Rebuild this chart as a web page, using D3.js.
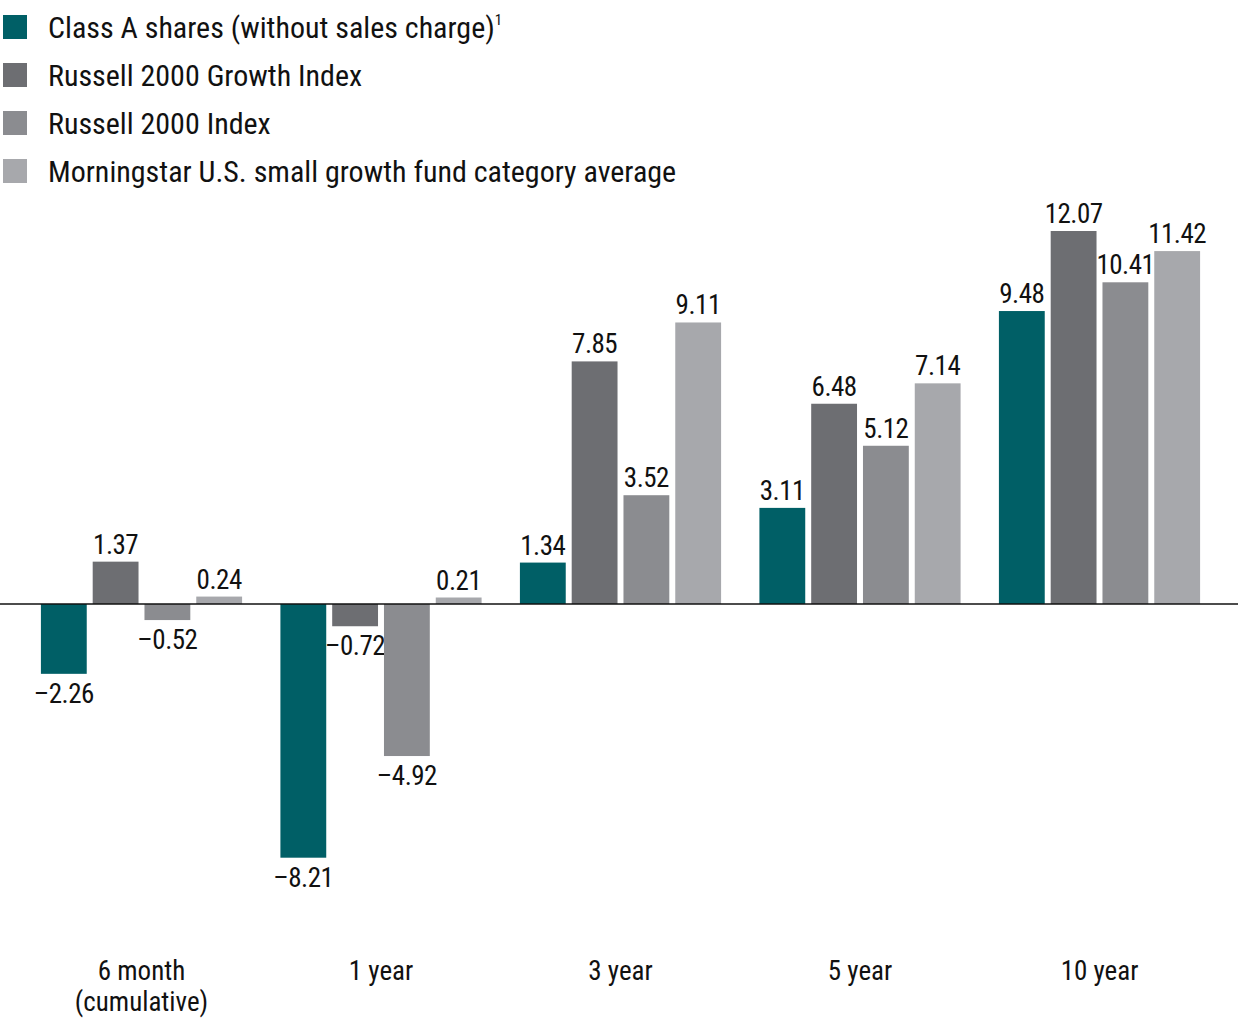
<!DOCTYPE html>
<html><head><meta charset="utf-8">
<script src="https://cdn.jsdelivr.net/npm/d3@7"></script>
<style>
body{margin:0;background:#fff;}
text{font-family:"Liberation Sans Narrow","Arial Narrow","Roboto Condensed","Liberation Sans",sans-serif;fill:#111;}
</style></head><body>
<svg id="chart" width="1238" height="1020"></svg>
<script>
const categories = ["6 month|(cumulative)", "1 year", "3 year", "5 year", "10 year"];
const seriesNames = ["Class A shares (without sales charge)", "Russell 2000 Growth Index", "Russell 2000 Index", "Morningstar U.S. small growth fund category average"];
const classA = [-2.26, -8.21, 1.34, 3.11, 9.48];
const r2000g = [1.37, -0.72, 7.85, 6.48, 12.07];
const r2000 = [-0.52, -4.92, 3.52, 5.12, 10.41];
const mstar = [0.24, 0.21, 9.11, 7.14, 11.42];
const colors = ["#005F66", "#6D6E72", "#8B8C90", "#A7A8AC"];

const seriesValues = [classA, r2000g, r2000, mstar];
const svg = d3.select("#chart");

const y = d3.scaleLinear().domain([-8.21, 12.07]).range([857.7, 231]);
const x0 = d3.scaleBand().domain(categories).range([21.75, 1219.25]).paddingInner(0.16).paddingOuter(0.08);
const x1 = d3.scaleBand().domain(d3.range(4)).range([0, x0.bandwidth()]).paddingInner(0.115);

const fmt = v => (v < 0 ? "\u2013" : "") + Math.abs(v).toFixed(2);

categories.forEach((c, ci) => {
  const g = svg.append("g").attr("transform", `translate(${x0(c)},0)`);
  seriesValues.forEach((vals, si) => {
    const v = vals[ci];
    g.append("rect")
      .attr("x", x1(si)).attr("width", x1.bandwidth())
      .attr("y", y(Math.max(0, v))).attr("height", Math.abs(y(v) - y(0)))
      .attr("fill", colors[si]);
    g.append("text")
      .attr("x", x1(si) + x1.bandwidth() / 2)
      .attr("y", v >= 0 ? y(v) - 8 : y(v) + 29)
      .attr("text-anchor", "middle")
      .attr("font-size", 27)
      .attr("letter-spacing", -0.5)
      .text(fmt(v));
  });
  const lines = c.split("|");
  const t = svg.append("text").attr("text-anchor", "middle").attr("font-size", 27);
  lines.forEach((l, li) => {
    t.append("tspan").attr("x", x0(c) + x0.bandwidth() / 2).attr("y", 980 + li * 31).text(l);
  });
});

svg.append("line").attr("x1", 0).attr("x2", 1238).attr("y1", y(0)).attr("y2", y(0))
  .attr("stroke", "#111").attr("stroke-width", 1.6);

const leg = svg.append("g");
seriesNames.forEach((n, i) => {
  leg.append("rect").attr("x", 3).attr("y", 15 + i * 48).attr("width", 24).attr("height", 24).attr("fill", colors[i]);
  const t = leg.append("text").attr("x", 48).attr("y", 38 + i * 48).attr("font-size", 30).text(n);
  if (i === 0) t.append("tspan").attr("font-size", 15).attr("dy", -13).text("1");
});
</script>
</body></html>
